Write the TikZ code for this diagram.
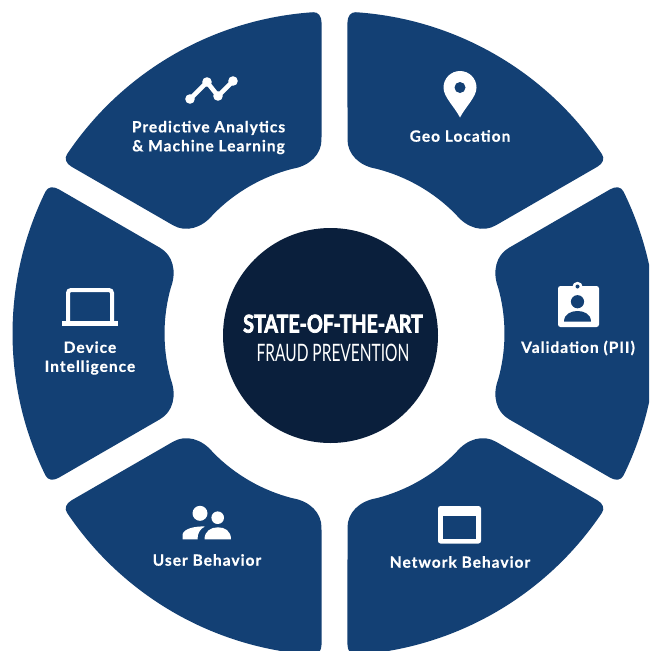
\documentclass[tikz,border=0pt]{standalone}
\usepackage{fontspec}
\setmainfont{Lato}
\newfontfamily\labelfont[LetterSpace=6.5,BoldFeatures={FakeBold=0.6}]{Lato}
\newfontfamily\titlefont[FakeStretch=0.645,BoldFeatures={FakeStretch=0.8,FakeBold=3}]{Lato}
\usetikzlibrary{calc}
\definecolor{segblue}{HTML}{134074}
\definecolor{hubnavy}{HTML}{0A1F3C}
\tikzset{
  segment/.style={fill=segblue,draw=none},
  seglabel/.style={text=white,align=center,inner sep=0pt,font=\labelfont\bfseries\fontsize{15.5}{19}\selectfont},
  iconfill/.style={fill=white,draw=none},
  iconhole/.style={fill=segblue,draw=none},
  iconline/.style={draw=white,line width=4.6pt,fill=none,line join=round,line cap=round}
}
\begin{document}
\begin{tikzpicture}[x=1pt,y=1pt,yscale=-1]
\useasboundingbox (0,0) rectangle (649,651);
\clip (0,0) rectangle (649,651);
\fill[white] (0,0) rectangle (649,651);
% six ring segments
\begin{scope}[shift={(334.5,333.5)}]
\foreach \a in {0,60,...,300}{
  \pgfmathsetmacro\opa{\a+27.69}\pgfmathsetmacro\oma{\a-27.69}
  \pgfmathsetmacro\ipa{\a+25.61}\pgfmathsetmacro\ima{\a-25.61}
  \pgfmathsetmacro\bpa{\a+26.2}\pgfmathsetmacro\bma{\a-26.2}
  \pgfmathsetmacro\apa{\a+15.6}\pgfmathsetmacro\ama{\a-15.6}
  \coordinate (Op) at (\opa:322);\coordinate (Om) at (\oma:322);
  \coordinate (Ip) at (\ipa:170);\coordinate (Im) at (\ima:170);
  \coordinate (Bp) at (\bpa:322);\coordinate (Bm) at (\bma:322);
  \coordinate (Ap) at (\apa:170);\coordinate (Am) at (\ama:170);
  \coordinate (Ep1) at ($(Op)!0.07!(Ip)$);\coordinate (Ep2) at ($(Ip)!0.16!(Op)$);
  \coordinate (Em1) at ($(Om)!0.07!(Im)$);\coordinate (Em2) at ($(Im)!0.16!(Om)$);
  \fill[segment] (Bp) arc[start angle=\bpa,end angle=\bma,radius=322]
    .. controls ($(Bm)!0.6!(Om)$) and ($(Em1)!0.6!(Om)$) .. (Em1)
    -- (Em2)
    .. controls ($(Em2)!0.6!(Im)$) and ($(Am)!0.6!(Im)$) .. (Am)
    arc[start angle=\ama,end angle=\apa,radius=170]
    .. controls ($(Ap)!0.6!(Ip)$) and ($(Ep2)!0.6!(Ip)$) .. (Ep2)
    -- (Ep1)
    .. controls ($(Ep1)!0.6!(Op)$) and ($(Bp)!0.6!(Op)$) .. (Bp) -- cycle;
}
\end{scope}
% hub
\node[circle,fill=hubnavy,minimum size=215pt,inner sep=0pt] (hub) at (330.5,335.5) {};
\node[text=white,align=center,inner sep=0pt] (title) at (333,338) {{\titlefont\bfseries\fontsize{24.5}{28}\selectfont STATE-OF-THE-ART}\\[10pt]{\titlefont\fontsize{24}{28}\selectfont FRAUD PREVENTION}};
% labels
\node[seglabel] (predictive) at (208.5,137.5) {Predictive Analytics\\\& Machine Learning};
\node[seglabel] (geo) at (460,136) {Geo Location};
\node[seglabel] (validation) at (578,348) {Validation (PII)};
\node[seglabel] (device) at (90,358) {Device\\Intelligence};
\node[seglabel] (user) at (207,560) {User Behavior};
\node[seglabel] (network) at (460,562) {Network Behavior};
% chart icon
\draw[iconline] (190,99) -- (207,82) -- (218,96) -- (233,81);
\foreach \p in {(190,99),(207,82),(218,96),(233,81)} \fill[iconfill] \p circle (4.8);
% pin icon
\fill[iconfill] (460,117.5) .. controls (454,106) and (443.5,97) .. (443.5,87.5)
  arc[start angle=180,end angle=360,radius=16.5]
  .. controls (476.5,97) and (466,106) .. (460,117.5) -- cycle;
\fill[iconhole] (460,87.5) circle (5.5);
% badge icon
\fill[iconfill,rounded corners=2.5pt] (558,286) rectangle (599,327);
\fill[iconfill] (577.5,287) circle (5.2);
\fill[iconhole] (577.5,286.5) circle (2);
\fill[iconhole] (577.5,301.7) circle (6.6);
\fill[iconhole] (564,321.7) .. controls (564,314) and (571,311) .. (577.5,311)
  .. controls (584,311) and (591,314) .. (591,321.7) -- cycle;
% laptop icon
\draw[draw=white,line width=4pt,rounded corners=3pt] (68,321) -- (68,290) -- (112,290) -- (112,321);
\fill[iconfill] (62,321) rectangle (118,326);
% users icon
\fill[iconfill] (200,513.3) circle (7.5);
\fill[iconfill] (217.7,517.7) circle (6.3);
\fill[iconfill] (182.7,539.3) -- (182.7,534) .. controls (184,529) and (194,526) .. (205,526.5)
  .. controls (200,529) and (197.5,533) .. (197.5,539.3) -- cycle;
\fill[iconfill] (204.5,539.3) .. controls (204.5,531) and (211,527.3) .. (218,527.3)
  .. controls (225,527.3) and (231,531) .. (231,539.3) -- cycle;
% window icon
\fill[iconfill,rounded corners=2.5pt] (438,506) rectangle (481,543.5);
\fill[iconhole] (443,515.5) rectangle (476,539);
\end{tikzpicture}
\end{document}
